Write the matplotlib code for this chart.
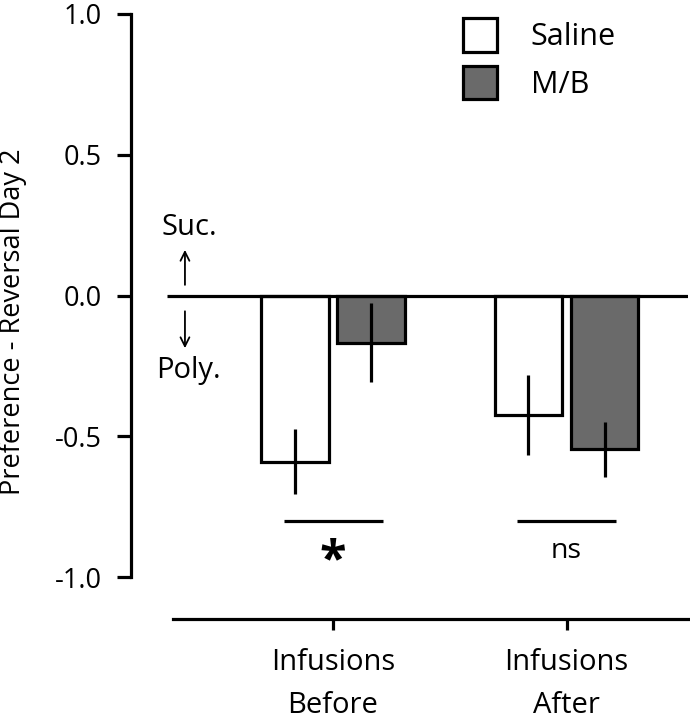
import numpy as np
import matplotlib
matplotlib.use("Agg")
import matplotlib.pyplot as plt
from matplotlib.ticker import FixedLocator, FuncFormatter

plt.rcParams['font.family'] = ['Open Sans', 'DejaVu Sans']

# Values
groups = ["Infusions\nBefore", "Infusions\nAfter"]
series = ["Saline", "M/B"]
saline_mean = [-0.59, -0.425]
saline_sem = [0.115, 0.143]
mb_mean = [-0.167, -0.546]
mb_sem = [0.139, 0.097]
sig_labels = ["*", "ns"]

FILL = {"Saline": "white", "M/B": "#6a6a6a"}
LW = 2.3
BAR_W = 0.29
OFFSET = 0.163

fig = plt.figure(figsize=(6.9, 7.19), dpi=100)
ax = fig.add_axes([131 / 690, 100 / 719, 557 / 690, 605 / 719])

x = np.arange(len(groups))
err_kw = dict(ecolor="black", elinewidth=LW, capsize=0, zorder=4)
b1 = ax.bar(x - OFFSET, saline_mean, BAR_W, yerr=saline_sem, color=FILL["Saline"],
            edgecolor="black", linewidth=LW, error_kw=err_kw, label=series[0], zorder=3)
b2 = ax.bar(x + OFFSET, mb_mean, BAR_W, yerr=mb_sem, color=FILL["M/B"],
            edgecolor="black", linewidth=LW, error_kw=err_kw, label=series[1], zorder=3)

ax.set_xlim(-0.865, 1.52)
ax.set_ylim(-1.149, 1.0)

# zero reference line
ax.hlines(0, -0.711, 1.52, color="black", linewidth=LW, zorder=5)

# spines
for side in ("top", "right"):
    ax.spines[side].set_visible(False)
ax.spines["left"].set_bounds(-1, 1)
ax.spines["bottom"].set_bounds(-0.685, 1.52)
for side in ("left", "bottom"):
    ax.spines[side].set_linewidth(LW)

ax.yaxis.set_major_locator(FixedLocator([-1.0, -0.5, 0.0, 0.5, 1.0]))
ax.yaxis.set_major_formatter(FuncFormatter(lambda v, p: f"{v:.1f}".replace("\u2212", "-")))
ax.tick_params(axis="y", length=10, width=LW, pad=11, labelsize=19.5)
ax.set_xticks(x)
ax.set_xticklabels(groups, fontsize=21, linespacing=1.65)
ax.tick_params(axis="x", length=8, width=LW, pad=13)

ax.set_ylabel("Preference - Reversal Day 2", fontsize=19.5)
ax.yaxis.set_label_coords(-0.187, 0.491)

# significance bars
for xi, lab in zip(x, sig_labels):
    ax.hlines(-0.80, xi - 0.212, xi + 0.212, color="black", linewidth=LW)
    if lab == "*":
        ax.text(xi, -0.99, lab, ha="center", va="baseline", fontsize=35, fontweight="bold")
    else:
        ax.text(xi, -0.933, lab, ha="center", va="baseline", fontsize=20.5)

# direction annotations
arrow = dict(arrowstyle="->", color="black", lw=1.3, mutation_scale=16)
ax.annotate("", xy=(-0.634, 0.172), xytext=(-0.634, 0.028), arrowprops=arrow)
ax.annotate("", xy=(-0.634, -0.197), xytext=(-0.634, -0.046), arrowprops=arrow)
ax.text(-0.617, 0.241, "Suc.", ha="center", va="center", fontsize=21)
ax.text(-0.617, -0.266, "Poly.", ha="center", va="center", fontsize=21)

ax.legend(handles=[b1, b2], loc="upper left", bbox_to_anchor=(0.557, 0.985),
          bbox_transform=ax.transData, frameon=False, fontsize=22,
          handlelength=1.11, handleheight=1.33, handletextpad=1.1,
          labelspacing=0.43, borderpad=0, borderaxespad=0)

fig.savefig("out.png", dpi=100)
